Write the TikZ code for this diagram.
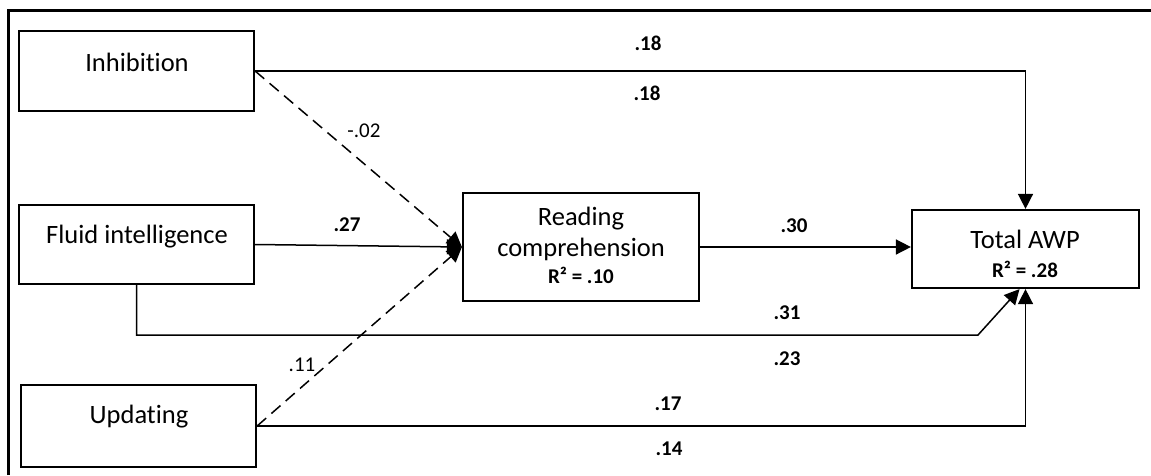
\documentclass[tikz,border=0pt]{standalone}
\usepackage{fontspec}
\setmainfont[Ligatures=NoCommon]{Carlito}
\usetikzlibrary{arrows.meta}
\begin{document}
\begin{tikzpicture}[x=1pt,y=-1pt,
  box/.style={draw, line width=2.2pt, rectangle, inner sep=0pt},
  boxtext/.style={font=\fontsize{26.5}{30}\selectfont, inner sep=0pt, anchor=center},
  subtext/.style={font=\fontsize{21}{24}\selectfont\bfseries, inner sep=0pt, anchor=center},
  lab/.style={font=\fontsize{21}{24}\selectfont\bfseries, inner sep=0pt, anchor=center},
  labn/.style={font=\fontsize{21}{24}\selectfont, inner sep=0pt, anchor=center},
  conn/.style={line width=1.5pt, -{Triangle[length=15pt,width=15pt]}},
  dconn/.style={conn, dash pattern=on 12pt off 7pt}
]
\useasboundingbox (0,0) rectangle (1151,475);
% frame
\coordinate (fA) at (8,475);
\coordinate (fB) at (8,10);
\coordinate (fC) at (1153,10);
\draw[line width=3pt] (fA) -- (fB) -- (fC);

% boxes
\node[box, minimum width=235pt, minimum height=80pt] (inh) at (136.5,71) {};
\node[box, minimum width=235pt, minimum height=79pt] (fl) at (136.5,244.5) {};
\node[box, minimum width=235pt, minimum height=82pt] (up) at (138.5,426) {};
\node[box, minimum width=236pt, minimum height=108pt] (rc) at (581,247) {};
\node[box, minimum width=227pt, minimum height=78pt] (awp) at (1025.5,249) {};

% box texts
\node[boxtext] (tinh) at (137,62) {Inhibition};
\node[boxtext] (tfl) at (137,237) {Fluid intelligence};
\node[boxtext] (tup) at (139,417) {Updating};
\node[boxtext] (trc1) at (581,219) {Reading};
\node[boxtext] (trc2) at (581,249) {comprehension};
\node[subtext] (trc3) at (581,275) {R² = .10};
\node[boxtext] (tawp1) at (1025,239) {Total AWP};
\node[subtext] (tawp2) at (1025,269) {R² = .28};

% connectors
\draw[conn] (inh.east) -| (awp.north);
\draw[dconn] (inh.east) -- (rc.west);
\draw[conn] (fl.east) -- (rc.west);
\draw[dconn] (up.east) -- (rc.west);
\draw[conn] (rc.east) -- (rc.east -| awp.west);
\coordinate (bend) at (978,335);
\coordinate (flend) at ([xshift=-6pt]awp.south);
\draw[conn] (fl.south) |- (bend) -- (flend);
\draw[conn] (up.east) -| (awp.south);

% labels
\node[lab] (l18a) at (648,43) {.18};
\node[lab] (l18b) at (647,93) {.18};
\node[labn] (l02) at (364,131) {-.02};
\node[lab] (l27) at (347,225) {.27};
\node[lab] (l30) at (794,226) {.30};
\node[lab] (l31) at (787,313) {.31};
\node[lab] (l23) at (787,359) {.23};
\node[labn] (l11) at (302,365) {.11};
\node[lab] (l17) at (668,404) {.17};
\node[lab] (l14) at (669,449) {.14};
\end{tikzpicture}
\end{document}
